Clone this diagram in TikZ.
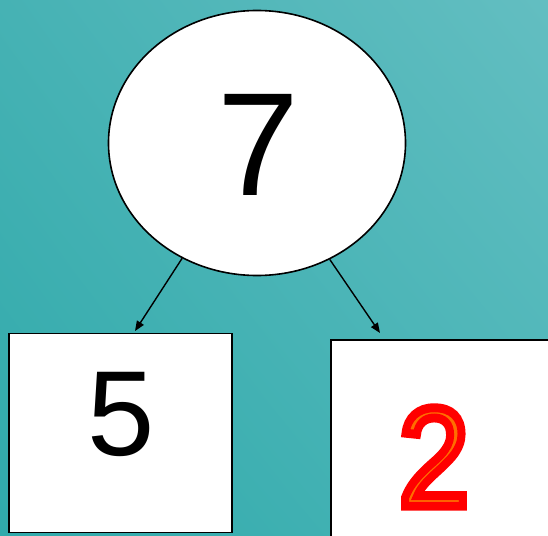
\documentclass[tikz,border=0pt]{standalone}
\usepackage{fontspec}
\setmainfont{Liberation Sans}
\newfontfamily\boldredfont[FakeBold=6.3]{Liberation Sans}
\usetikzlibrary{shapes.geometric,arrows.meta,shadings}
\definecolor{bgUR}{RGB}{99,190,193}
\definecolor{bgLL}{RGB}{48,170,171}
\definecolor{bgUL}{RGB}{70,178,180}
\definecolor{bgLR}{RGB}{74,181,183}
\definecolor{numred}{RGB}{255,0,0}
\definecolor{numorange}{RGB}{255,110,0}
\tikzset{
  shape box/.style={draw=black, fill=white, line width=1.6pt},
  link/.style={draw=black, line width=1.4pt, -{Triangle[length=10pt,width=8pt]}},
  digit/.style={inner sep=0pt, outer sep=0pt, text=black},
  twodigit/.style={digit, text=numorange, xscale=0.9, transform shape}
}
\begin{document}
\begin{tikzpicture}[x=1pt,y=1pt]
\useasboundingbox (0,0) rectangle (548,-535);
\clip (0,0) rectangle (548,-535);
\shade[upper right=bgUR, lower left=bgLL, upper left=bgUL, lower right=bgLR] (0,0) rectangle (548,-535);
\node[ellipse, shape box, minimum width=297, minimum height=265, inner sep=0pt] (e) at (257,-143) {};
\node[digit, font=\fontsize{147}{147}\selectfont] (n7) at (258,-145) {7};
\node[rectangle, shape box, minimum width=223, minimum height=199, inner sep=0pt] (b5) at (120.5,-433) {};
\node[digit, font=\fontsize{121}{121}\selectfont] (n5) at (121,-414) {5};
\node[rectangle, shape box, minimum width=229, minimum height=210, inner sep=0pt] (b2) at (445.5,-445) {};
\node[twodigit, font=\boldredfont\fontsize{141}{141}\selectfont] (n2) at (434,-457) {\special{pdf:literal direct 1 0 0 RG}2};
\coordinate (t1) at (135,-331);
\coordinate (t2) at (380,-333);
\draw[link] (e.237) -- (t1);
\draw[link] (e.302.5) -- (t2);
\end{tikzpicture}
\end{document}
